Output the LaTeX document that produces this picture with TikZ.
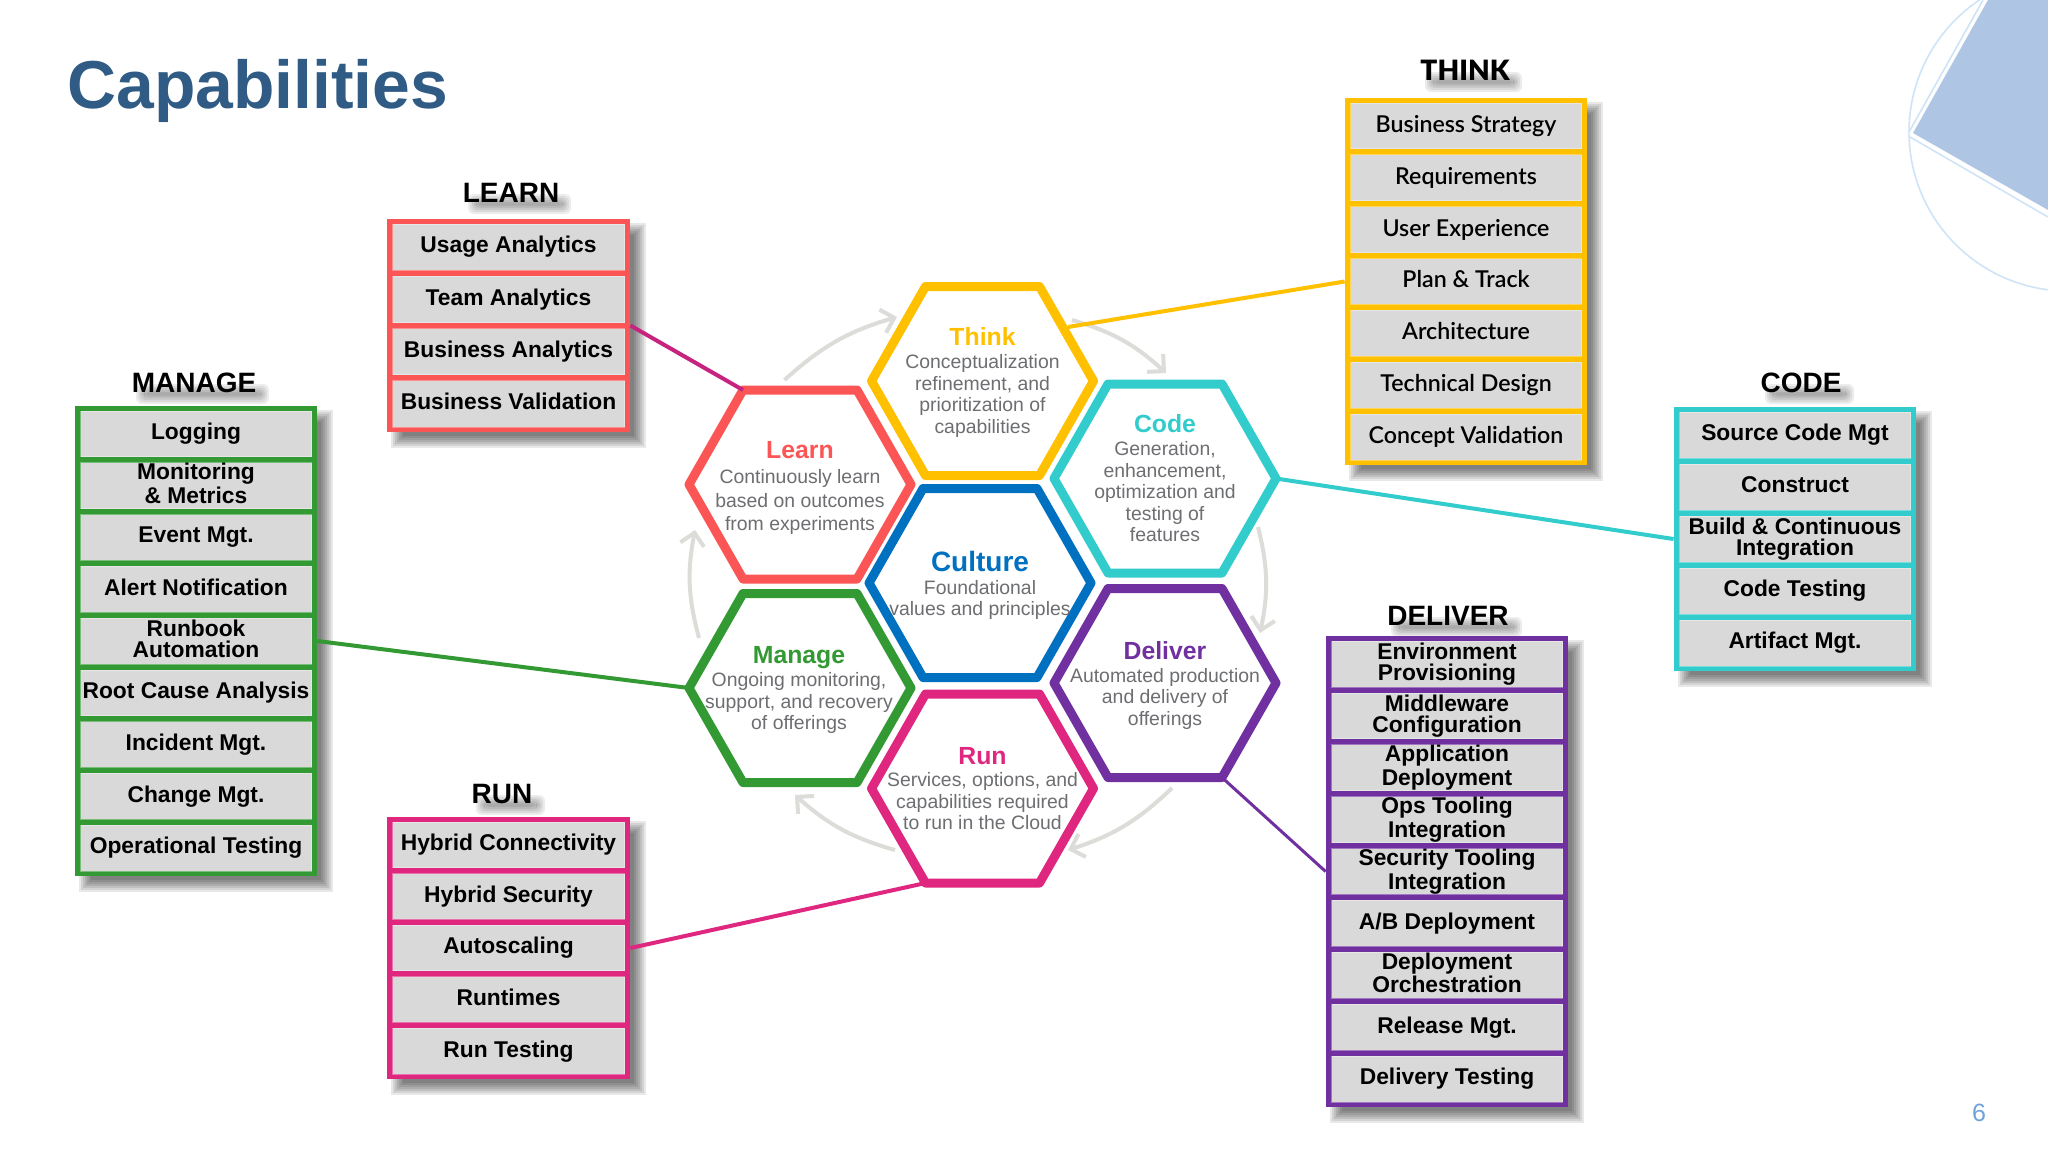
\documentclass[tikz,border=0pt]{standalone}
\usepackage{fontspec}
\setmainfont{Liberation Sans}
\newfontfamily\thinkfont{Lato Semibold}
\newfontfamily\thinkhead{Lato Black}
\usetikzlibrary{arrows.meta,calc}
\definecolor{clearn}{HTML}{FB5555}
\definecolor{cthink}{HTML}{FFC000}
\definecolor{ccode}{HTML}{33CCCC}
\definecolor{cculture}{HTML}{0070C0}
\definecolor{cdeliver}{HTML}{7030A0}
\definecolor{cmanage}{HTML}{339933}
\definecolor{crun}{HTML}{DF2780}
\definecolor{clink}{HTML}{C7247F}
\definecolor{cdesc}{HTML}{6D6E71}
\definecolor{ccycle}{HTML}{DCDCD9}
\definecolor{crow}{HTML}{D9D9D9}
\definecolor{ctitle}{HTML}{2F5B85}
\definecolor{cdeco}{HTML}{AEC6E3}
\definecolor{cring}{HTML}{CFE4F7}
\definecolor{cpage}{HTML}{6FA3D8}
\tikzset{
  rowbox/.style={fill=crow,draw=white,draw opacity=.35,line width=.4pt,inner sep=0pt,align=center,
     font=\fontsize{11.4}{10.5}\bfseries\selectfont},
  thinkrow/.style={rowbox,font=\fontsize{11.6}{10.5}\thinkfont\selectfont},
  hdr/.style={anchor=base,inner sep=0pt,font=\fontsize{14}{14}\bfseries\selectfont},
  cyc/.style={draw=ccycle,line width=2pt,-{Straight Barb[length=6pt,width=12pt,line width=2pt]}},
  link/.style={line width=2pt},
  hextext/.style={anchor=north,inner sep=0pt,align=center,text=cdesc},
}
% soft shadow of a panel
\newcommand\boxshadow[4]{%
  \foreach \d in {-6,-4,-2,0,2,4,6}{
    \fill[black,opacity=.09] (#1+10-\d,#2+10-\d) rectangle (#3+10+\d,#4+10+\d);
  }}
% soft shadow of a heading
\newcommand\headshadow[3]{%
  \foreach \d in {-6,-4,-2,0,2,4}{
    \fill[black,opacity=.075,rounded corners=3pt] (#1-#3+8-\d,#2-4-\d) rectangle (#1+#3+9+\d,#2+8+\d);
  }}
% name, colour, x1,y1,x2,y2, rows count, row style ; list
\newcommand\panel[9]{%
  \boxshadow{#3}{#4}{#5}{#6}
  \pgfmathsetmacro\pw{(#5-#3)*0.5}
  \pgfmathsetmacro\ph{(#6-#4)*0.5}
  \pgfmathsetmacro\rh{(#6-#4-10-6*(#7-1))/#7}
  \pgfmathsetmacro\rw{(#5-#3-11)*0.5}
  \pgfmathsetmacro\rhpt{\rh*0.5}
  \node[fill=#2,inner sep=0pt,minimum width=\pw pt,minimum height=\ph pt] (#1) at ({(#3+#5)/2},{(#4+#6)/2}) {};
  \foreach \t [count=\i] in {#9}{
    \pgfmathsetmacro\ry{#4+5+(\i-1)*(\rh+6)+\rh/2}
    \node[#8,minimum width=\rw pt,minimum height=\rhpt pt] (#1-\i) at ({(#3+#5)/2},\ry) {\t\vphantom{g}};
  }}
% name, colour, cx, cy
\newcommand\hexoutline[4]{%
  \draw[#2,line width=4.5pt,line join=round,fill=white]
    (#3-111,#4) -- (#3-57,#4-94.5) -- (#3+57,#4-94.5) -- (#3+111,#4)
    -- (#3+57,#4+94.5) -- (#3-57,#4+94.5) -- cycle;
  \coordinate (#1-l) at (#3-111,#4);
  \coordinate (#1-r) at (#3+111,#4);
  \coordinate (#1-tl) at (#3-57,#4-94.5);
  \coordinate (#1-bl) at (#3-57,#4+94.5);
  \coordinate (#1-br) at (#3+57,#4+94.5);
}
% name, colour, cx, top, skip, gap, title size, title, description
\newcommand\hextext[9]{%
  \node[hextext,font=\fontsize{9.7}{#5}\selectfont] (#1) at (#3,#4)
    {{\fontsize{#7}{#7}\bfseries\selectfont\color{#2}#8}\\[#6]#9};
}
\begin{document}
\begin{tikzpicture}[x=0.5pt,y=-0.5pt]
\useasboundingbox (0,0) rectangle (2048,1152);
\fill[white] (0,0) rectangle (2048,1152);

% decoration, top right
\begin{scope}
\clip (0,0) rectangle (2048,1152);
\draw[cring,line width=.8pt] (2068,132) circle [radius=159];
\fill[white] (1909,133) -- (1983,-2) -- (2060,-2) -- (2060,222) -- cycle;
\draw[cring,line width=.8pt] (1909,132) -- (1983,0);
\draw[cring,line width=.8pt] (1910,137) -- (2048,217);
\fill[cdeco] (1913,133) -- (1988,0) -- (2048,0) -- (2048,210) -- cycle;
\end{scope}

\node[anchor=base west,inner sep=0pt,text=ctitle,font=\fontsize{33.9}{34}\bfseries\selectfont] (title) at (67,108) {Capabilities};
\node[anchor=center,inner sep=0pt,text=cpage,font=\fontsize{12.5}{13}\selectfont] (page) at (1979,1113) {6};

% cycle arrows
\coordinate (a1s) at (784.5,380); \coordinate (a1e) at (897,317);
\coordinate (a2s) at (1072,320); \coordinate (a2e) at (1166,373);
\coordinate (a3s) at (1258,527); \coordinate (a3e) at (1260,633);
\coordinate (a4s) at (1172,788); \coordinate (a4e) at (1068,850);
\coordinate (a5s) at (895,850); \coordinate (a5e) at (795,795);
\coordinate (a6s) at (699,638); \coordinate (a6e) at (695,530);
\foreach \n in {1,...,6}{ \draw[cyc] (a\n s) to[bend left=13] (a\n e); }

% headings
\headshadow{194}{392}{62}
\headshadow{511}{202}{47}
\headshadow{502}{803}{30}
\headshadow{1465}{80}{44}
\headshadow{1448}{625}{61}
\headshadow{1801}{392}{40}
\node[hdr] (h-manage) at (194,392) {MANAGE};
\node[hdr] (h-learn) at (511,202) {LEARN};
\node[hdr] (h-run) at (502,803) {RUN};
\node[hdr,font=\fontsize{14}{14}\thinkhead\selectfont] (h-think) at (1465,80) {THINK};
\node[hdr] (h-deliver) at (1448,625) {DELIVER};
\node[hdr] (h-code) at (1801,392) {CODE};

% panels
\panel{pmanage}{cmanage}{75}{406}{317}{876}{9}{rowbox}{Logging,{Monitoring\\\& Metrics},Event Mgt.,Alert Notification,{Runbook\\Automation},Root Cause Analysis,Incident Mgt.,Change Mgt.,Operational Testing}
\panel{plearn}{clearn}{387}{219}{630}{432}{4}{rowbox}{Usage Analytics,Team Analytics,Business Analytics,Business Validation}
\panel{prun}{crun}{387}{817}{630}{1079}{5}{rowbox}{Hybrid Connectivity,Hybrid Security,Autoscaling,Runtimes,Run Testing}
\panel{pthink}{cthink}{1345}{98}{1587}{465}{7}{thinkrow}{Business Strategy,Requirements,User Experience,Plan \& Track,Architecture,Technical Design,Concept Validation}
\panel{pcode}{ccode}{1674}{407}{1916}{671}{5}{rowbox}{Source Code Mgt,Construct,{Build \& Continuous\\Integration},Code Testing,Artifact Mgt.}
\panel{pdeliver}{cdeliver}{1326}{636}{1568}{1107}{9}{rowbox}{{Environment\\Provisioning},{Middleware\\Configuration},{Application\\Deployment},{Ops Tooling\\Integration},{Security Tooling\\Integration},A/B Deployment,{Deployment\\Orchestration},Release Mgt.,Delivery Testing}

% hexagons
\hexoutline{learn}{clearn}{800}{484.5}
\hexoutline{manage}{cmanage}{800}{688}
\hexoutline{culture}{cculture}{980}{583}
\hexoutline{think}{cthink}{982.5}{381}
\hexoutline{run}{crun}{982.5}{788.5}
\hexoutline{code}{ccode}{1165}{478.5}
\hexoutline{deliver}{cdeliver}{1165}{683}

\hextext{learn-t}{clearn}{800}{441}{11.8}{.7pt}{12.4}{Learn}{Continuously learn\\based on outcomes\\from experiments}
\hextext{manage-t}{cmanage}{799}{646}{10.75}{1pt}{12.4}{Manage}{Ongoing monitoring,\\support, and recovery\\of offerings}
\hextext{culture-t}{cculture}{980}{551}{10.75}{.5pt}{14}{Culture}{Foundational\\values and principles}
\hextext{think-t}{cthink}{982.5}{327}{10.75}{1pt}{12.4}{Think}{Conceptualization\\refinement, and\\prioritization of\\capabilities}
\hextext{run-t}{crun}{982.5}{747}{10.75}{.5pt}{12.4}{Run}{Services, options, and\\capabilities required\\to run in the Cloud}
\hextext{code-t}{ccode}{1165}{414}{10.75}{1pt}{12.4}{Code}{Generation,\\enhancement,\\optimization and\\testing of\\features}
\hextext{deliver-t}{cdeliver}{1165}{641}{10.75}{.7pt}{12.4}{Deliver}{Automated production\\and delivery of\\offerings}

% connectors
\coordinate (think-c) at (1068,327);
\draw[link,clink] (plearn.east) -- (learn-tl);
\draw[link,cthink] (pthink.west) -- (think-c);
\draw[link,ccode] (pcode.west) -- (code-r);
\draw[link,cmanage] (pmanage.east) -- (manage-l);
\draw[link,crun] (prun.east) -- (run-bl);
\draw[cdeliver,line width=1.5pt] (pdeliver.west) -- (deliver-br);
\end{tikzpicture}
\end{document}
